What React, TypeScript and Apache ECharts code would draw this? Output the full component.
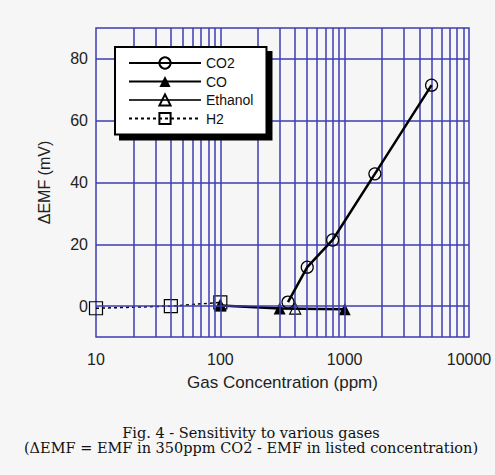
import React, { useEffect, useRef } from "react";
import * as echarts from "echarts";

const co2X = [350, 500, 800, 1750, 5000];
const co2Y = [1.3, 12.6, 21.4, 42.8, 71.5];
const coX = [100, 300, 1000];
const coY = [0.2, -0.8, -1.0];
const ethanolX = [100, 400];
const ethanolY = [0.3, -0.8];
const h2X = [10, 40, 100];
const h2Y = [-0.7, 0, 1.2];

const xGridValues = [
  20, 30, 40, 50, 60, 70, 80, 90, 100,
  200, 300, 400, 500, 600, 700, 800, 900, 1000,
  2000, 3000, 4000, 5000, 6000, 7000, 8000, 9000,
];
const yGridValues = [0, 20, 40, 60, 80];

const captionLines = [
  "Fig. 4 - Sensitivity to various gases",
  "(ΔEMF = EMF in 350ppm CO2 - EMF in listed concentration)",
];

const GRID = "#3c3cb4";
const SANS = "'Liberation Sans', Arial, sans-serif";
const SERIF = "'DejaVu Serif', serif";

const pair = (xs: number[], ys: number[]) => xs.map((x, i) => [x, ys[i]]);

export default function App() {
  const ref = useRef<HTMLDivElement>(null);
  useEffect(() => {
    if (!ref.current) return;
    const chart = echarts.init(ref.current, undefined, { renderer: "svg" });
    chart.setOption({
      animation: false,
      backgroundColor: "#f6f6f6",
      grid: {
        left: 96,
        right: 26,
        top: 28,
        bottom: 138,
        show: true,
        borderColor: GRID,
        borderWidth: 1.5,
        backgroundColor: "transparent",
      },
      legend: {
        z: 20,
        orient: "vertical",
        left: 115,
        top: 47,
        data: ["CO2", "CO", "Ethanol", "H2"],
        itemWidth: 72,
        itemHeight: 14,
        itemGap: 4.5,
        padding: [9, 13, 9, 13],
        backgroundColor: "#ffffff",
        borderColor: "#000",
        borderWidth: 2,
        borderRadius: 0,
        shadowColor: "#000",
        shadowBlur: 0,
        shadowOffsetX: 5,
        shadowOffsetY: 5,
        textStyle: { fontFamily: SANS, fontSize: 14, color: "#111" },
      },
      xAxis: {
        type: "log",
        logBase: 10,
        min: 10,
        max: 10000,
        axisLine: { show: false },
        axisTick: { show: false },
        splitLine: { show: false },
        axisLabel: {
          fontFamily: SANS,
          fontSize: 16,
          color: "#222",
          margin: 14,
          formatter: (v: number) => String(Math.round(v)),
        },
        name: "Gas Concentration (ppm)",
        nameLocation: "middle",
        nameGap: 37,
        nameTextStyle: { fontFamily: SANS, fontSize: 17, color: "#222" },
      },
      yAxis: {
        type: "value",
        min: -10,
        max: 90,
        interval: 10,
        axisLine: { show: false },
        axisTick: { show: false },
        splitLine: { show: false },
        axisLabel: {
          fontFamily: SANS,
          fontSize: 16,
          color: "#222",
          margin: 8,
          formatter: (v: number) =>
            v >= 0 && v <= 80 && v % 20 === 0 ? String(v) : "",
        },
        name: "ΔEMF (mV)",
        nameLocation: "middle",
        nameGap: 44,
        nameRotate: 90,
        nameTextStyle: { fontFamily: SANS, fontSize: 16, color: "#222" },
      },
      series: [
        {
          name: "grid",
          type: "line",
          data: [],
          z: 1,
          silent: true,
          markLine: {
            silent: true,
            symbol: "none",
            label: { show: false },
            lineStyle: { color: GRID, width: 1.5, type: "solid" },
            data: [
              ...xGridValues.map((v) => ({ xAxis: v })),
              ...yGridValues.map((v) => ({ yAxis: v })),
            ],
          },
        },
        {
          name: "H2",
          type: "line",
          z: 3,
          data: pair(h2X, h2Y),
          symbol: "rect",
          symbolSize: 13,
          lineStyle: { color: "#000", width: 1.5, type: [3, 3] },
          itemStyle: { color: "rgba(0,0,0,0)", borderColor: "#000", borderWidth: 1.2 },
        },
        {
          name: "Ethanol",
          type: "line",
          z: 3,
          data: pair(ethanolX, ethanolY),
          symbol: "triangle",
          symbolSize: 11,
          lineStyle: { color: "#333", width: 1 },
          itemStyle: { color: "rgba(0,0,0,0)", borderColor: "#000", borderWidth: 1.2 },
        },
        {
          name: "CO",
          type: "line",
          z: 4,
          data: pair(coX, coY),
          symbol: "triangle",
          symbolSize: 12,
          lineStyle: { color: "#000", width: 2.5 },
          itemStyle: { color: "#000", borderColor: "#000", borderWidth: 0 },
        },
        {
          name: "CO2",
          type: "line",
          z: 5,
          data: pair(co2X, co2Y),
          symbol: "circle",
          symbolSize: 12,
          lineStyle: { color: "#000", width: 2.5 },
          itemStyle: { color: "rgba(0,0,0,0)", borderColor: "#000", borderWidth: 1.2 },
        },
      ],
      graphic: [
        {
          type: "text",
          x: 251,
          y: 425,
          z: 30,
          style: {
            text: captionLines.join("\n"),
            align: "center",
            verticalAlign: "top",
            lineHeight: 15,
            fontFamily: SERIF,
            fontSize: 14.5,
            fill: "#111",
          },
        },
      ],
    });
    return () => chart.dispose();
  }, []);
  return (
    <div
      ref={ref}
      style={{ position: "fixed", left: 0, top: 0, width: 495, height: 475 }}
    />
  );
}
